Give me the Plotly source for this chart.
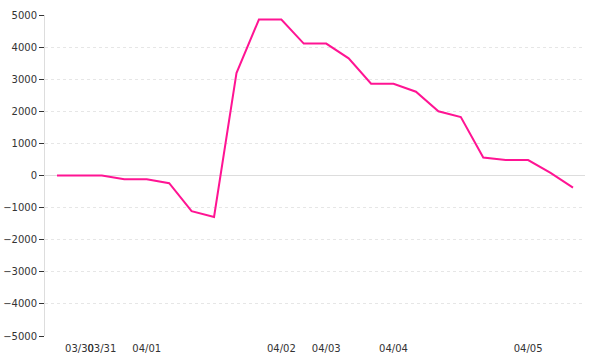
import plotly.graph_objects as go

values = [0, 0, 0, -115, -115, -240, -1110, -1290, 3190, 4860, 4860, 4110, 4110,
          3650, 2860, 2860, 2610, 2000, 1820, 560, 480, 480, 80, -380]
tick_positions = [1, 2, 4, 10, 12, 15, 21]
tick_labels = ["03/30", "03/31", "04/01", "04/02", "04/03", "04/04", "04/05"]
y_ticks = [5000, 4000, 3000, 2000, 1000, 0, -1000, -2000, -3000, -4000, -5000]

x = list(range(len(values)))

fig = go.Figure()
fig.add_trace(go.Scatter(x=x, y=values, mode="lines",
                         line=dict(color="#ff1493", width=2), hoverinfo="skip"))

fig.update_layout(
    width=600, height=360,
    margin=dict(l=45, r=15, t=15, b=24),
    paper_bgcolor="white", plot_bgcolor="white",
    showlegend=False,
    font=dict(family="DejaVu Sans", size=10, color="#333"),
)
fig.update_xaxes(
    range=[-0.535, 23.535], automargin=False, tickangle=0,
    tickmode="array", tickvals=tick_positions, ticktext=tick_labels,
    showgrid=False, zeroline=False, showline=False, ticks="",
    ticklabelstandoff=5,
    tickfont=dict(size=10, color="#333"),
)
fig.update_yaxes(
    range=[-5000, 5000], automargin=False,
    tickmode="array", tickvals=y_ticks,
    showgrid=True, gridcolor="#e6e6e6", griddash="dot", gridwidth=1,
    zeroline=True, zerolinecolor="#dddddd", zerolinewidth=1,
    showline=True, linecolor="#dddddd", linewidth=1,
    ticks="outside", ticklen=5, tickcolor="#333",
    tickfont=dict(size=10, color="#333"),
)

fig.write_html("out.html")
